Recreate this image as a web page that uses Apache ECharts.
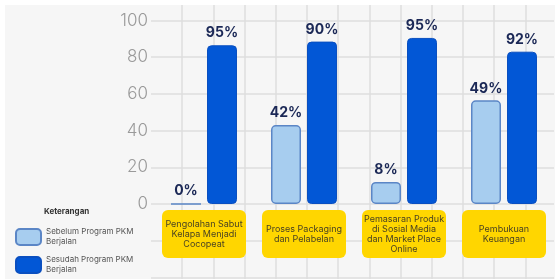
<!DOCTYPE html>
<html>
<head>
<meta charset="utf-8">
<script src="https://cdn.jsdelivr.net/npm/echarts@6/dist/echarts.min.js"></script>
<style>
  html, body { margin: 0; padding: 0; background: #ffffff; }
  #chart { position: absolute; left: 5px; top: 5px; width: 550px; height: 274px; }
</style>
</head>
<body>
<div id="chart"></div>
<script>
// data
const categories = [
  'Pengolahan Sabut\nKelapa Menjadi\nCocopeat',
  'Proses Packaging\ndan Pelabelan',
  'Pemasaran Produk\ndi Sosial Media\ndan Market Place\nOnline',
  'Pembukuan\nKeuangan'
]
const seriesNames = ['Sebelum Program PKM\nBerjalan', 'Sesudah Program PKM\nBerjalan']
const beforeValues = [0, 43, 12, 56.5]
const afterValues = [86.5, 88.5, 90.5, 83]
const beforeLabels = ['0%', '42%', '8%', '49%']
const afterLabels = ['95%', '90%', '95%', '92%']
const yTicks = [0, 20, 40, 60, 80, 100]

const font = 'Inter, "Noto Sans", sans-serif'
const gridColor = '#dedede'

const chart = echarts.init(document.getElementById('chart'))

// yellow label boxes all get the same height
function catItem(text) {
  const n = text.split('\n').length
  const pv = (48 - 10 * n) / 2
  return { value: text, textStyle: { padding: [pv, 4, pv, 4] } }
}

function valueLabel(labels) {
  return {
    show: true,
    position: 'top',
    distance: 5,
    fontFamily: font,
    fontSize: 14,
    fontWeight: 'bold',
    color: '#1b2856',
    formatter: p => labels[p.dataIndex]
  }
}

chart.setOption({
  backgroundColor: '#f6f6f6',
  animation: false,
  title: {
    text: 'Keterangan',
    left: 39,
    top: 203,
    padding: 0,
    textStyle: { fontFamily: font, fontSize: 8, fontWeight: 'bold', color: '#333' }
  },
  legend: {
    orient: 'vertical',
    left: 10,
    top: 222,
    padding: 0,
    itemWidth: 25,
    itemHeight: 16,
    itemGap: 8,
    icon: 'roundRect',
    textStyle: { fontFamily: font, fontSize: 8, lineHeight: 10, color: '#555' },
    data: seriesNames
  },
  grid: [
    { left: 149, right: 1, top: 15.5, bottom: 75 },
    // graph paper background: vertical lines
    { left: 146, right: 0, top: 0, bottom: 0 },
    // graph paper background: horizontal lines
    { left: 146, right: 1, top: 15.5, bottom: 1.6 }
  ],
  xAxis: [
    {
      type: 'category',
      gridIndex: 0,
      data: categories.map(catItem),
      axisLine: { show: false },
      axisTick: { show: false },
      axisLabel: {
        interval: 0,
        margin: 6,
        width: 76,
        align: 'center',
        fontFamily: font,
        fontSize: 9,
        lineHeight: 10,
        color: '#4a4322',
        backgroundColor: '#ffd600',
        borderRadius: 6
      }
    },
    {
      type: 'value', gridIndex: 1, min: 0, max: 12.95, interval: 1,
      axisLine: { show: false }, axisTick: { show: false }, axisLabel: { show: false },
      splitLine: { show: true, showMinLine: false, showMaxLine: false, lineStyle: { color: gridColor, width: 1.5 } }
    },
    {
      type: 'value', gridIndex: 2, min: 0, max: 1,
      show: false
    }
  ],
  yAxis: [
    {
      type: 'value',
      gridIndex: 0,
      min: yTicks[0],
      max: yTicks[yTicks.length - 1],
      interval: 20,
      axisLine: { show: false },
      axisTick: { show: false },
      splitLine: { show: false },
      axisLabel: { margin: 6, fontFamily: font, fontSize: 17, fontWeight: 300, color: '#9a9a9a' }
    },
    {
      type: 'value', gridIndex: 1, min: 0, max: 1,
      show: false
    },
    {
      type: 'value', gridIndex: 2, min: 0, max: 7, interval: 1,
      axisLine: { show: false }, axisTick: { show: false }, axisLabel: { show: false },
      splitLine: { show: true, lineStyle: { color: gridColor, width: 1.5 } }
    }
  ],
  series: [
    {
      name: seriesNames[0],
      type: 'bar',
      xAxisIndex: 0,
      yAxisIndex: 0,
      barWidth: 30,
      barGap: '20%',
      z: 3,
      itemStyle: { color: '#a7cdef', borderColor: '#5b86c6', borderWidth: 1.5, borderRadius: 4 },
      label: valueLabel(beforeLabels),
      data: beforeValues
    },
    {
      name: seriesNames[1],
      type: 'bar',
      xAxisIndex: 0,
      yAxisIndex: 0,
      barWidth: 30,
      z: 3,
      itemStyle: { color: '#0257d6', borderColor: '#0a4fc0', borderWidth: 1, borderRadius: 4 },
      label: valueLabel(afterLabels),
      data: afterValues
    }
  ]
})
</script>
</body>
</html>
